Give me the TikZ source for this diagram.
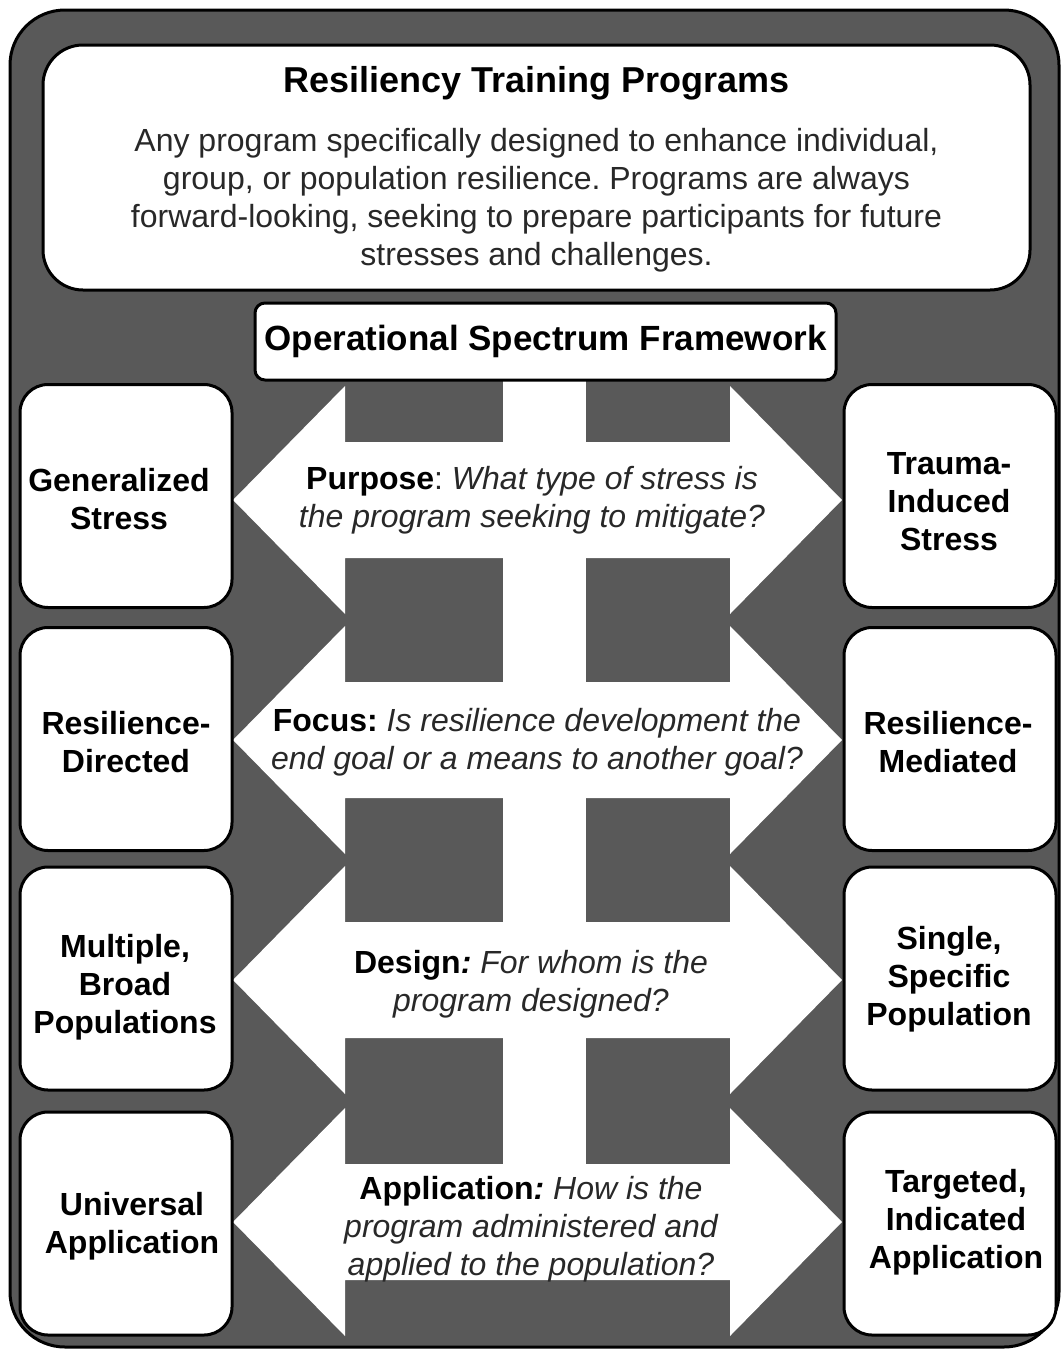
\documentclass[tikz,border=0pt]{standalone}
\usepackage{fontspec}
\setmainfont{Liberation Sans}
\frenchspacing
\definecolor{framegray}{RGB}{89,89,89}
\definecolor{bodytxt}{RGB}{40,40,40}
\begin{document}
\begin{tikzpicture}[x=1pt,y=-1pt,
  edge/.style={draw=black, line width=3pt, fill=white},
  sidebox/.style={edge, rounded corners=28pt, minimum width=212pt, minimum height=223pt, inner sep=0pt},
  sidelbl/.style={font=\fontsize{32}{38}\selectfont\bfseries, align=center, text=black},
  qlbl/.style={font=\fontsize{32}{38}\selectfont, align=center, text=bodytxt},
  arrowshape/.style={fill=white, draw=none}
]
\useasboundingbox (0,0) rectangle (1061,1349);
\clip (0,0) rectangle (1061,1349);

% outer frame
\draw[fill=framegray, line width=3pt, rounded corners=55pt] (10,10) rectangle (1059,1347);

% top box
\node[edge, rounded corners=40pt, minimum width=987pt, minimum height=245pt, inner sep=0pt] (topbox) at (536.5,167.5) {};
\node[font=\fontsize{36}{40}\selectfont\bfseries, text=black, anchor=base] (title) at (536.5,92) {Resiliency Training Programs};
\node[font=\fontsize{32}{38}\selectfont, text=bodytxt, align=center] (desc) at (536.5,200)
  {Any program specifically designed to enhance individual,\\group, or population resilience. Programs are always\\forward-looking, seeking to prepare participants for future\\stresses and challenges.};

% vertical bar
\fill[white] (503,378) rectangle (586,1222);

% double arrows
\foreach \c in {500,740,980,1222}{
  \fill[arrowshape] (233,\c) -- (345,\c-114) -- (345,\c-58) -- (730,\c-58) -- (730,\c-114)
    -- (842,\c) -- (730,\c+114) -- (730,\c+58) -- (345,\c+58) -- (345,\c+114) -- cycle;
}

% operational box
\node[edge, rounded corners=10pt, minimum width=581pt, minimum height=77pt, inner sep=0pt,
  font=\fontsize{35}{40}\selectfont\bfseries, text=black] (osf) at (545.5,341.5) {Operational Spectrum Framework};

% side boxes
\node[sidebox] (ls1) at (126,496) {};
\node[sidebox] (ls2) at (126,739) {};
\node[sidebox] (ls3) at (126,978.5) {};
\node[sidebox] (ls4) at (126,1223.5) {};
\node[sidebox] (rs1) at (950,496) {};
\node[sidebox] (rs2) at (950,739) {};
\node[sidebox] (rs3) at (950,978.5) {};
\node[sidebox] (rs4) at (950,1223.5) {};

\node[sidelbl] (lt1) at (119,499) {Generalized\\Stress};
\node[sidelbl] (lt2) at (126,742) {Resilience-\\Directed};
\node[sidelbl] (lt3) at (125,987) {Multiple,\\Broad\\Populations};
\node[sidelbl] (lt4) at (132,1226) {Universal\\Application};
\node[sidelbl] (rt1) at (949,502) {Trauma-\\Induced\\Stress};
\node[sidelbl] (rt2) at (948,742) {Resilience-\\Mediated};
\node[sidelbl] (rt3) at (949,979) {Single,\\Specific\\Population};
\node[sidelbl] (rt4) at (956,1222) {Targeted,\\Indicated\\Application};

% question texts
\node[qlbl] (q1) at (532,500) {\textcolor{black}{\bfseries Purpose}: \itshape What type of stress is\\\itshape the program seeking to mitigate?};
\node[qlbl] (q2) at (537,742) {\textcolor{black}{\bfseries Focus:} \itshape Is resilience development the\\\itshape end goal or a means to another goal?};
\node[qlbl] (q3) at (531,984) {\textcolor{black}{\bfseries Design\itshape:} \itshape For whom is the\\\itshape program designed?};
\node[qlbl] (q4) at (531,1229) {\textcolor{black}{\bfseries Application\itshape:} \itshape How is the\\\itshape program administered and\\\itshape applied to the population?};
\end{tikzpicture}
\end{document}
